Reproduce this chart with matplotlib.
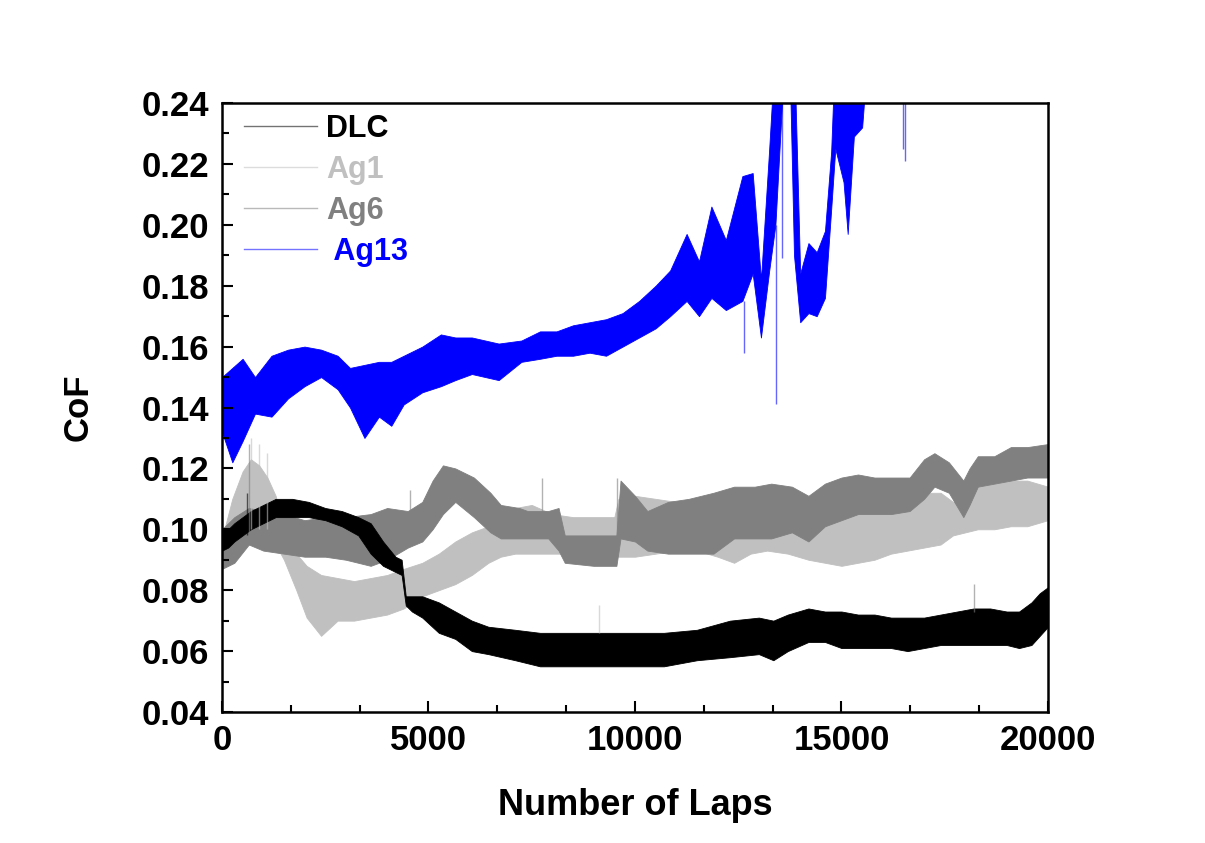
import matplotlib
matplotlib.use("Agg")
import matplotlib.pyplot as plt
from matplotlib.lines import Line2D
from matplotlib.ticker import MultipleLocator
import numpy as np

plt.rcParams['font.family'] = ['Liberation Sans', 'DejaVu Sans']
plt.rcParams['font.weight'] = 'bold'

# ---------------- data (envelopes of the noisy CoF traces) ----------------
dlc_x = [0, 150, 300, 500, 700, 1000, 1300, 1700, 2100, 2500, 2900, 3300, 3600, 3900, 4200, 4350, 4450,
         4600, 4850, 5250, 5650, 6050, 6450, 7100, 7700, 8300, 9100, 9900, 10700, 11500, 12300, 13000,
         13350, 13700, 14200, 14600, 15000, 15400, 15800, 16200, 16600, 17000, 17400, 17800, 18200,
         18600, 19000, 19300, 19600, 19800, 20000]
dlc_lo = [0.093, 0.094, 0.096, 0.098, 0.100, 0.102, 0.104, 0.104, 0.104, 0.103, 0.101, 0.098, 0.092,
          0.088, 0.086, 0.085, 0.075, 0.073, 0.071, 0.066, 0.064, 0.060, 0.059, 0.057, 0.055, 0.055,
          0.055, 0.055, 0.055, 0.057, 0.058, 0.059, 0.057, 0.060, 0.063, 0.063, 0.061, 0.061, 0.061,
          0.061, 0.060, 0.061, 0.062, 0.062, 0.062, 0.062, 0.062, 0.061, 0.062, 0.065, 0.068]
dlc_hi = [0.100, 0.100, 0.102, 0.104, 0.106, 0.108, 0.110, 0.110, 0.109, 0.107, 0.106, 0.104, 0.102,
          0.096, 0.091, 0.090, 0.078, 0.078, 0.078, 0.076, 0.073, 0.070, 0.068, 0.067, 0.066, 0.066,
          0.066, 0.066, 0.066, 0.067, 0.070, 0.071, 0.070, 0.072, 0.074, 0.073, 0.073, 0.072, 0.072,
          0.071, 0.071, 0.071, 0.072, 0.073, 0.074, 0.074, 0.073, 0.073, 0.076, 0.079, 0.081]

ag1_x = [0, 250, 500, 700, 900, 1100, 1300, 1500, 1800, 2050, 2400, 2800, 3200, 3600, 4000, 4400, 4850,
         5250, 5650, 6050, 6450, 6750, 7100, 7500, 8000, 8500, 9000, 9500, 9600, 10000, 10500, 11000,
         11500, 12000, 12400, 12800, 13200, 13700, 14200, 14600, 15000, 15400, 15800, 16200, 16600,
         17000, 17400, 17700, 18000, 18300, 18700, 19100, 19500, 20000]
ag1_lo = [0.088, 0.092, 0.096, 0.098, 0.098, 0.097, 0.095, 0.090, 0.080, 0.071, 0.065, 0.070, 0.070,
          0.071, 0.072, 0.074, 0.078, 0.080, 0.082, 0.085, 0.089, 0.091, 0.092, 0.092, 0.092, 0.092,
          0.092, 0.092, 0.091, 0.091, 0.092, 0.093, 0.093, 0.091, 0.089, 0.092, 0.093, 0.092, 0.090,
          0.089, 0.088, 0.089, 0.090, 0.092, 0.093, 0.094, 0.095, 0.098, 0.099, 0.100, 0.100, 0.101,
          0.101, 0.103]
ag1_hi = [0.097, 0.110, 0.119, 0.123, 0.121, 0.117, 0.111, 0.100, 0.092, 0.088, 0.085, 0.084, 0.083,
          0.084, 0.085, 0.087, 0.089, 0.092, 0.096, 0.099, 0.101, 0.103, 0.107, 0.108, 0.105, 0.104,
          0.104, 0.104, 0.110, 0.111, 0.110, 0.109, 0.110, 0.109, 0.106, 0.104, 0.104, 0.103, 0.103,
          0.105, 0.108, 0.107, 0.106, 0.106, 0.108, 0.112, 0.112, 0.109, 0.111, 0.114, 0.115, 0.116,
          0.116, 0.114]

ag6_x = [0, 300, 650, 1000, 1500, 2000, 2500, 3000, 3600, 4000, 4500, 4850, 5100, 5350, 5650, 6100,
         6500, 6750, 7200, 7400, 7900, 8150, 8300, 9000, 9550, 9650, 10000, 10300, 10800, 11300, 11900,
         12400, 12900, 13300, 13800, 14200, 14600, 15000, 15400, 15800, 16200, 16650, 17000, 17250,
         17600, 17950, 18100, 18300, 18700, 19100, 19500, 20000]
ag6_lo = [0.087, 0.089, 0.095, 0.093, 0.092, 0.091, 0.091, 0.090, 0.088, 0.090, 0.094, 0.096, 0.100,
          0.105, 0.109, 0.104, 0.099, 0.097, 0.097, 0.097, 0.097, 0.093, 0.089, 0.088, 0.088, 0.097,
          0.096, 0.093, 0.092, 0.092, 0.092, 0.097, 0.097, 0.097, 0.099, 0.096, 0.101, 0.103, 0.105,
          0.105, 0.105, 0.106, 0.110, 0.114, 0.112, 0.104, 0.108, 0.114, 0.115, 0.116, 0.117, 0.117]
ag6_hi = [0.100, 0.104, 0.107, 0.106, 0.105, 0.103, 0.104, 0.104, 0.105, 0.107, 0.106, 0.109, 0.116,
          0.121, 0.120, 0.117, 0.112, 0.108, 0.107, 0.106, 0.106, 0.107, 0.098, 0.098, 0.098, 0.116,
          0.111, 0.106, 0.109, 0.110, 0.112, 0.114, 0.114, 0.115, 0.114, 0.111, 0.115, 0.117, 0.118,
          0.117, 0.117, 0.117, 0.123, 0.125, 0.122, 0.116, 0.120, 0.124, 0.124, 0.127, 0.127, 0.128]

# values above 0.24 are off-scale (clipped at the top of the frame)
ag13_x = [0, 250, 500, 800, 1200, 1600, 2000, 2400, 2800, 3100, 3450, 3800, 4100, 4400, 4850, 5300,
          5650, 6050, 6700, 7250, 7700, 8100, 8500, 8900, 9300, 9700, 10100, 10500, 10850, 11250,
          11550, 11850, 12200, 12600, 12850, 13050, 13250, 13400, 13520, 13600, 13750, 13850, 14000,
          14200, 14400, 14600, 14750, 14850, 15050, 15150, 15300, 15500, 15600, 20000]
ag13_lo = [0.132, 0.122, 0.129, 0.138, 0.137, 0.143, 0.147, 0.150, 0.146, 0.140, 0.130, 0.137, 0.134,
           0.141, 0.145, 0.147, 0.149, 0.151, 0.149, 0.155, 0.156, 0.157, 0.157, 0.158, 0.157, 0.160,
           0.163, 0.166, 0.170, 0.175, 0.170, 0.176, 0.172, 0.175, 0.184, 0.163, 0.185, 0.200, 0.230,
           0.250, 0.250, 0.190, 0.168, 0.171, 0.170, 0.176, 0.205, 0.225, 0.214, 0.197, 0.229, 0.232,
           0.250, 0.250]
ag13_hi = [0.150, 0.153, 0.156, 0.150, 0.157, 0.159, 0.160, 0.159, 0.157, 0.153, 0.154, 0.155, 0.155,
           0.157, 0.160, 0.164, 0.163, 0.163, 0.161, 0.162, 0.165, 0.165, 0.167, 0.168, 0.169, 0.171,
           0.175, 0.180, 0.185, 0.197, 0.188, 0.206, 0.195, 0.216, 0.217, 0.182, 0.225, 0.260, 0.260,
           0.260, 0.260, 0.260, 0.184, 0.194, 0.191, 0.198, 0.224, 0.260, 0.260, 0.260, 0.260, 0.260,
           0.260, 0.260]

# isolated thin spikes: (x, low, high)
dlc_spk = [(600, 0.098, 0.112)]
ag1_spk = [(700, 0.100, 0.130), (900, 0.100, 0.128), (1100, 0.100, 0.125), (9130, 0.066, 0.075)]
ag6_spk = [(650, 0.095, 0.128), (4550, 0.100, 0.113), (7750, 0.100, 0.117), (9560, 0.098, 0.117),
           (18200, 0.073, 0.082)]
ag13_spk = [(12640, 0.158, 0.175), (13410, 0.141, 0.200), (13560, 0.189, 0.250),
            (16480, 0.225, 0.250), (16530, 0.221, 0.250)]

labels = ['DLC', 'Ag1', 'Ag6', ' Ag13']
colors = ['#000000', '#c0c0c0', '#808080', '#0000ff']

# ---------------- figure ----------------
fig = plt.figure(figsize=(12.05, 8.43), dpi=100)
ax = fig.add_axes([0.1842, 0.1554, 0.6855, 0.7224])

series = [(ag1_x, ag1_lo, ag1_hi, ag1_spk, colors[1]),
          (ag6_x, ag6_lo, ag6_hi, ag6_spk, colors[2]),
          (dlc_x, dlc_lo, dlc_hi, dlc_spk, colors[0]),
          (ag13_x, ag13_lo, ag13_hi, ag13_spk, colors[3])]
for xs, lo, hi, spk, c in series:
    ax.fill_between(xs, lo, hi, color=c, linewidth=0.6, edgecolor=c)
    for sx, sl, sh in spk:
        ax.vlines(sx, sl, sh, color=c, linewidth=1.0, alpha=0.6)

ax.set_xlim(0, 20000)
ax.set_ylim(0.04, 0.24)
ax.xaxis.set_major_locator(MultipleLocator(5000))
ax.xaxis.set_minor_locator(MultipleLocator(5000 / 3))
ax.yaxis.set_major_locator(MultipleLocator(0.02))
ax.yaxis.set_minor_locator(MultipleLocator(0.01))
ax.yaxis.set_major_formatter(matplotlib.ticker.FormatStrFormatter('%.2f'))
ax.tick_params(which='both', direction='in', top=False, right=False, width=1.5)
ax.tick_params(which='major', length=8, labelsize=25, pad=9)
ax.tick_params(which='minor', length=5)
for lab in ax.get_xticklabels() + ax.get_yticklabels():
    lab.set_fontweight('bold')
for s in ax.spines.values():
    s.set_linewidth(1.8)

ax.set_xlabel('Number of Laps', fontsize=26, fontweight='bold', labelpad=22)
ax.set_ylabel('CoF', fontsize=25, fontweight='bold', labelpad=34)

handles = [Line2D([0], [0], color=c, linewidth=1.0, alpha=0.55) for c in colors]
leg = ax.legend(handles, labels, loc='upper left', bbox_to_anchor=(0.019, 0.992), frameon=False,
                handlelength=2.4, handletextpad=0.3, labelspacing=0.36,
                borderaxespad=0.0, borderpad=0.2, labelcolor=colors,
                prop={'weight': 'bold', 'size': 22})

fig.savefig('out.png', dpi=100)
